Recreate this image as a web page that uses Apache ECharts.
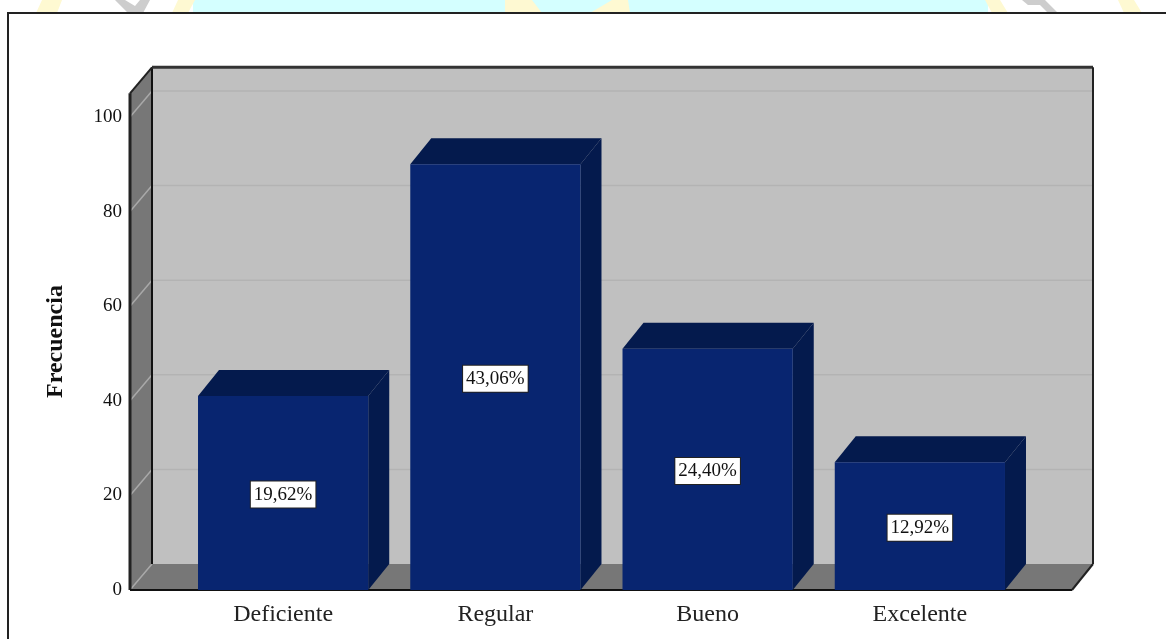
<!DOCTYPE html>
<html>
<head>
<meta charset="utf-8">
<style>html,body{margin:0;padding:0;background:#fff}#c{width:1166px;height:639px}</style>
<script src="https://cdn.jsdelivr.net/npm/echarts@6/dist/echarts.min.js"></script>
</head>
<body>
<div id="c"></div>
<script>
const categories = ['Deficiente', 'Regular', 'Bueno', 'Excelente'];
const frequencies = [41, 90, 51, 27];
const percentLabels = ['19,62%', '43,06%', '24,40%', '12,92%'];
const yTicks = [0, 20, 40, 60, 80, 100];
const yAxisName = 'Frecuencia';
const wallTopValue = 105;

const FONT = '"Liberation Serif", serif';
const DX = 21, DY = -26;
const PAD_L = 47, PAD_R = 46;
const BAR_RATIO = 0.802;

function poly(points, fill, extra) {
  return Object.assign({
    type: 'polygon', shape: { points },
    style: { fill, stroke: null }
  }, extra || {});
}
function line(x1, y1, x2, y2, stroke, lineWidth) {
  return { type: 'line', shape: { x1, y1, x2, y2 }, style: { stroke, lineWidth, fill: null } };
}

function renderWalls(params, api) {
  const cs = params.coordSys;
  const L = cs.x - PAD_L, R = cs.x + cs.width + PAD_R, F = cs.y + cs.height;
  const T = api.coord([0, wallTopValue])[1];
  const bl = L + DX + 1, br = R + DX, bt = T + DY, bf = F + DY;
  const ch = [];
  ch.push(poly([[bl, bt], [br, bt], [br, bf], [bl, bf]], '#c0c0c0'));
  ch.push(poly([[L, T], [bl, bt], [bl, bf], [L, F]], '#777777'));
  ch.push(poly([[L, F], [R, F], [br, bf], [bl, bf]], '#777777'));
  yTicks.forEach(t => {
    const y = api.coord([0, t])[1];
    if (t > 0) ch.push(line(bl, y + DY, br, y + DY, '#b3b3b3', 1.5));
    ch.push(line(L, y, bl, y + DY, '#a9a9a9', 1.5));
  });
  ch.push(line(bl, bt, bl, bf, '#111', 2));
  ch.push(line(bl, bt, br, bt, '#333', 3));
  ch.push(line(br, bt, br, bf, '#222', 2));
  ch.push(line(L, T, bl, bt, '#222', 2));
  ch.push(line(L, T, L, F, '#222', 3));
  ch.push(line(L, F, R, F, '#111', 2));
  ch.push(line(R, F, br, bf, '#222', 2));
  return { type: 'group', children: ch };
}

function renderBars(params, api) {
  const i = api.value(0), v = api.value(1);
  const top = api.coord([i, v]), base = api.coord([i, 0]);
  const w = api.size([1, 0])[0] * BAR_RATIO;
  const x0 = top[0] - w / 2, x1 = top[0] + w / 2, yt = top[1], yb = base[1];
  return {
    type: 'group',
    children: [
      poly([[x1, yt], [x1 + DX, yt + DY], [x1 + DX, yb + DY], [x1, yb]], '#041a4d'),
      poly([[x0, yt], [x0 + DX, yt + DY], [x1 + DX, yt + DY], [x1, yt]], '#041a4d'),
      { type: 'rect', shape: { x: x0, y: yt, width: w, height: yb - yt }, style: { fill: '#082570' } },
      {
        type: 'text', x: top[0], y: (yt + yb) / 2 + 1.5,
        style: {
          text: percentLabels[params.dataIndex], font: '19px ' + FONT, fill: '#111',
          align: 'center', verticalAlign: 'middle',
          backgroundColor: '#fff', borderColor: '#222', borderWidth: 1, padding: [4, 3, 3, 3]
        }
      }
    ]
  };
}

const chart = echarts.init(document.getElementById('c'), null, { renderer: 'canvas' });
chart.setOption({
  animation: false,
  backgroundColor: '#fff',
  grid: { left: 177, right: 140, top: 117, bottom: 49 },
  graphic: {
    elements: [
      { type: 'rect', z: -10, shape: { x: 193, y: 0, width: 795, height: 13 }, style: { fill: '#d4ffff' } },
      { type: 'polygon', z: -9, shape: { points: [[42, 0], [62, 0], [57, 13], [36, 13]] }, style: { fill: '#fef9d2' } },
      { type: 'polygon', z: -9, shape: { points: [[178, 0], [195, 0], [188, 13], [172, 13]] }, style: { fill: '#fef9d2' } },
      { type: 'polygon', z: -9, shape: { points: [[505, 0], [532, 0], [542, 13], [505, 13]] }, style: { fill: '#fef9d2' } },
      { type: 'polygon', z: -9, shape: { points: [[612, 0], [628, 0], [630, 13], [590, 13]] }, style: { fill: '#fef9d2' } },
      { type: 'polygon', z: -9, shape: { points: [[985, 0], [1000, 0], [1008, 13], [992, 13]] }, style: { fill: '#fef9d2' } },
      { type: 'polygon', z: -9, shape: { points: [[1118, 0], [1134, 0], [1142, 13], [1124, 13]] }, style: { fill: '#fef9d2' } },
      { type: 'polygon', z: -8, shape: { points: [[115, 0], [125, 0], [135, 6], [140, 0], [150, 0], [143, 13], [128, 13]] }, style: { fill: '#cdcdcd' } },
      { type: 'polygon', z: -8, shape: { points: [[1022, 0], [1045, 0], [1058, 13], [1048, 13], [1040, 5], [1028, 5]] }, style: { fill: '#cdcdcd' } },
      { type: 'rect', z: -7, shape: { x: 8, y: 13, width: 1170, height: 640 }, style: { fill: '#fff', stroke: '#222', lineWidth: 2 } }
    ]
  },
  xAxis: {
    type: 'category', data: categories,
    axisLine: { show: false }, axisTick: { show: false },
    axisLabel: { color: '#222', fontFamily: FONT, fontSize: 24, margin: 13 },
    splitLine: { show: false }
  },
  yAxis: {
    type: 'value', min: 0, max: 100, interval: 20, offset: 47,
    name: yAxisName, nameLocation: 'middle', nameGap: 62,
    nameTextStyle: { color: '#111', fontFamily: FONT, fontSize: 24, fontWeight: 'bold', padding: [0, 0, 0, 24] },
    axisLine: { show: false }, axisTick: { show: false },
    axisLabel: { color: '#111', fontFamily: FONT, fontSize: 19, margin: 8 },
    splitLine: { show: false }
  },
  series: [
    { type: 'custom', z: 1, data: [[0, 0]], encode: { x: 0, y: 1 }, renderItem: renderWalls, clip: false, silent: true },
    { type: 'custom', z: 2, data: frequencies.map((v, i) => [i, v]), encode: { x: 0, y: 1 }, renderItem: renderBars, clip: false }
  ]
});
</script>
</body>
</html>
